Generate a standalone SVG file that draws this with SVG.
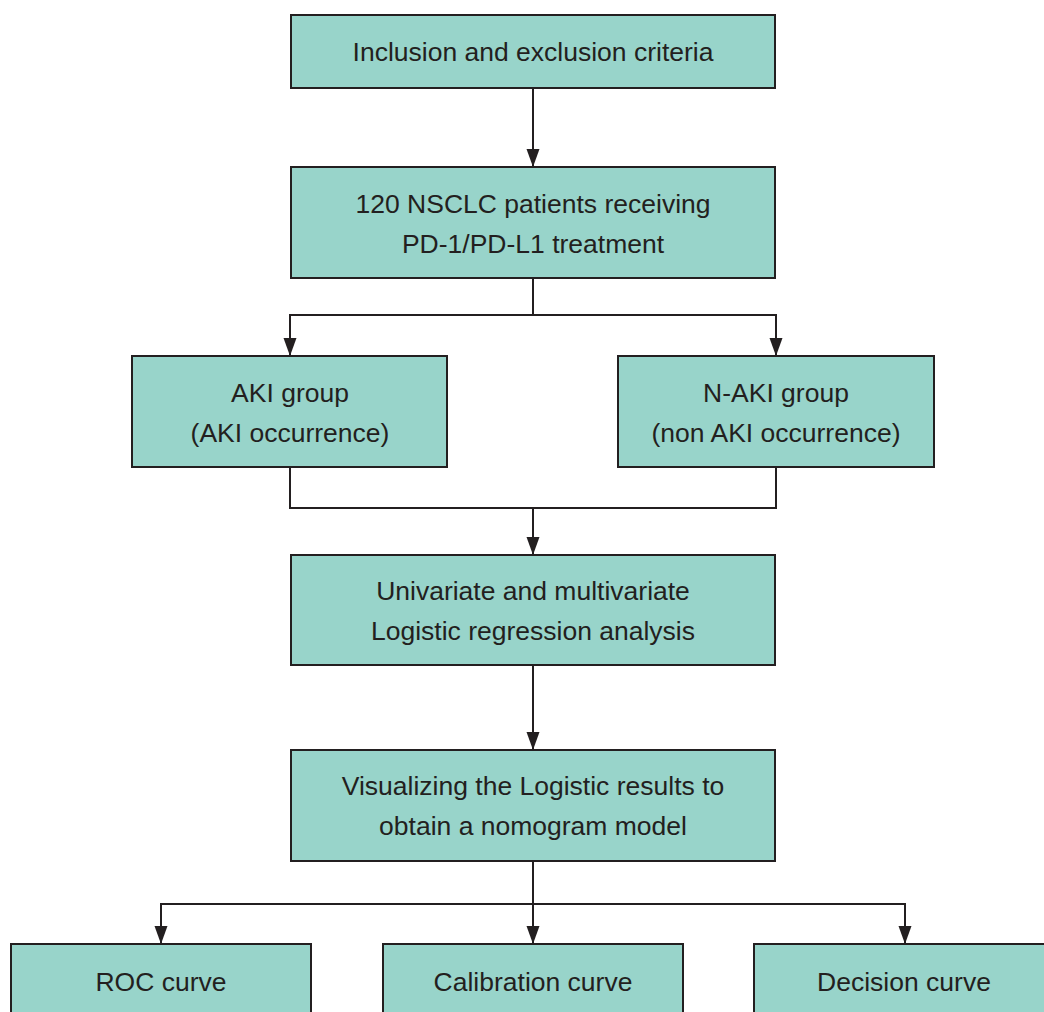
<svg xmlns="http://www.w3.org/2000/svg" width="1044" height="1012" viewBox="0 0 1044 1012">
<style>
.box{fill:#98d4ca;stroke:#231f20;stroke-width:2}
.t{font-family:"Liberation Sans",Arial,sans-serif;font-size:26.5px;fill:#231f20;text-anchor:middle}
.c{fill:none;stroke:#231f20;stroke-width:2}
</style>
<defs>
<marker id="ah" markerUnits="userSpaceOnUse" markerWidth="18" markerHeight="14" refX="17" refY="7" orient="auto">
<path d="M0,0.5 L18,7 L0,13.5 Z" fill="#231f20"/>
</marker>
</defs>
<rect width="1044" height="1012" fill="#ffffff"/>
<g id="connectors">
<path class="c" d="M533,88 V166" marker-end="url(#ah)"/>
<path class="c" d="M533,278 V315 H290 V355" marker-end="url(#ah)"/>
<path class="c" d="M533,315 H776 V355" marker-end="url(#ah)"/>
<path class="c" d="M290,467 V508 H776 V467"/>
<path class="c" d="M533,508 V554" marker-end="url(#ah)"/>
<path class="c" d="M533,665 V749" marker-end="url(#ah)"/>
<path class="c" d="M533,861 V904 H161 V943" marker-end="url(#ah)"/>
<path class="c" d="M533,904 V943" marker-end="url(#ah)"/>
<path class="c" d="M533,904 H905 V943" marker-end="url(#ah)"/>
</g>
<g id="n1"><rect class="box" x="291" y="15" width="484" height="73"/><text class="t" x="533" y="61">Inclusion and exclusion criteria</text></g>
<g id="n2"><rect class="box" x="291" y="167" width="484" height="111"/><text class="t" x="533" y="213">120 NSCLC patients receiving</text><text class="t" x="533" y="253">PD-1/PD-L1 treatment</text></g>
<g id="n3"><rect class="box" x="132" y="356" width="315" height="111"/><text class="t" x="290" y="402">AKI group</text><text class="t" x="290" y="442">(AKI occurrence)</text></g>
<g id="n4"><rect class="box" x="618" y="356" width="316" height="111"/><text class="t" x="776" y="402">N-AKI group</text><text class="t" x="776" y="442">(non AKI occurrence)</text></g>
<g id="n5"><rect class="box" x="291" y="555" width="484" height="110"/><text class="t" x="533" y="600">Univariate and multivariate</text><text class="t" x="533" y="640">Logistic regression analysis</text></g>
<g id="n6"><rect class="box" x="291" y="750" width="484" height="111"/><text class="t" x="533" y="795">Visualizing the Logistic results to</text><text class="t" x="533" y="835">obtain a nomogram model</text></g>
<g id="n7"><rect class="box" x="11" y="944" width="300" height="90"/><text class="t" x="161" y="991">ROC curve</text></g>
<g id="n8"><rect class="box" x="383" y="944" width="300" height="90"/><text class="t" x="533" y="991">Calibration curve</text></g>
<g id="n9"><rect class="box" x="754" y="944" width="300" height="90"/><text class="t" x="904" y="991">Decision curve</text></g>
</svg>
